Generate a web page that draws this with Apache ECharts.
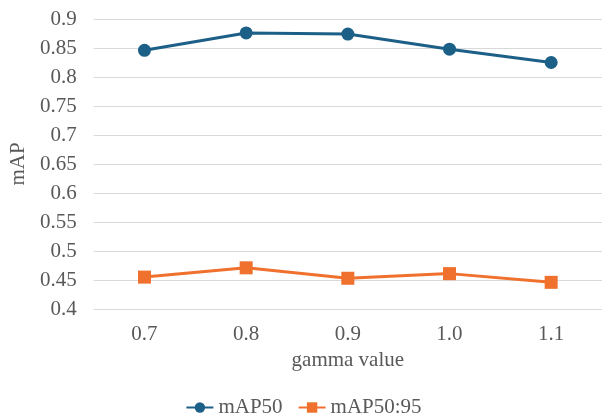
<!DOCTYPE html>
<html>
<head>
<meta charset="utf-8">
<script src="https://cdn.jsdelivr.net/npm/echarts@6/dist/echarts.min.js"></script>
<style>
  html, body { margin: 0; padding: 0; background: #fff; }
  #chart { width: 607px; height: 420px; }
</style>
</head>
<body>
<div id="chart"></div>
<script>
// gamma values on the x axis
const gammaValues = ['0.7', '0.8', '0.9', '1.0', '1.1'];
// detection accuracy for each gamma
const map50 = [0.846, 0.876, 0.874, 0.848, 0.825];
const map50to95 = [0.455, 0.471, 0.453, 0.461, 0.446];

const textColor = '#595959';
const fontFamily = '"Liberation Serif", "Times New Roman", serif';
const fontSize = 21;

const chart = echarts.init(document.getElementById('chart'));
chart.setOption({
  animation: false,
  textStyle: { fontFamily: fontFamily },
  grid: { left: 89, right: 5, top: 19, bottom: 111 },
  legend: {
    top: 392,
    left: 'center',
    itemWidth: 27,
    itemHeight: 13,
    itemGap: 15,
    textStyle: { fontFamily: fontFamily, fontSize: fontSize, color: textColor },
    data: ['mAP50', 'mAP50:95']
  },
  xAxis: {
    type: 'category',
    data: gammaValues,
    name: 'gamma value',
    nameLocation: 'middle',
    nameGap: 41,
    nameTextStyle: { fontFamily: fontFamily, fontSize: fontSize, color: textColor },
    axisLine: { show: false },
    axisTick: { show: false },
    axisLabel: { fontFamily: fontFamily, fontSize: fontSize, color: textColor, margin: 15 }
  },
  yAxis: {
    type: 'value',
    min: 0.4,
    max: 0.9,
    interval: 0.05,
    name: 'mAP',
    nameLocation: 'middle',
    nameGap: 58,
    nameTextStyle: { fontFamily: fontFamily, fontSize: fontSize, color: textColor },
    axisLine: { show: false },
    axisTick: { show: false },
    axisLabel: {
      fontFamily: fontFamily, fontSize: fontSize, color: textColor, margin: 17,
      formatter: v => String(parseFloat(v.toFixed(2)))
    },
    splitLine: { lineStyle: { color: '#d9d9d9', width: 1 } }
  },
  series: [
    {
      name: 'mAP50',
      type: 'line',
      data: map50,
      symbol: 'circle',
      symbolSize: 13,
      lineStyle: { color: '#1c5f87', width: 3 },
      itemStyle: { color: '#1c5f87' }
    },
    {
      name: 'mAP50:95',
      type: 'line',
      data: map50to95,
      symbol: 'rect',
      symbolSize: 13,
      lineStyle: { color: '#f0702e', width: 3 },
      itemStyle: { color: '#f0702e' }
    }
  ]
});
</script>
</body>
</html>
